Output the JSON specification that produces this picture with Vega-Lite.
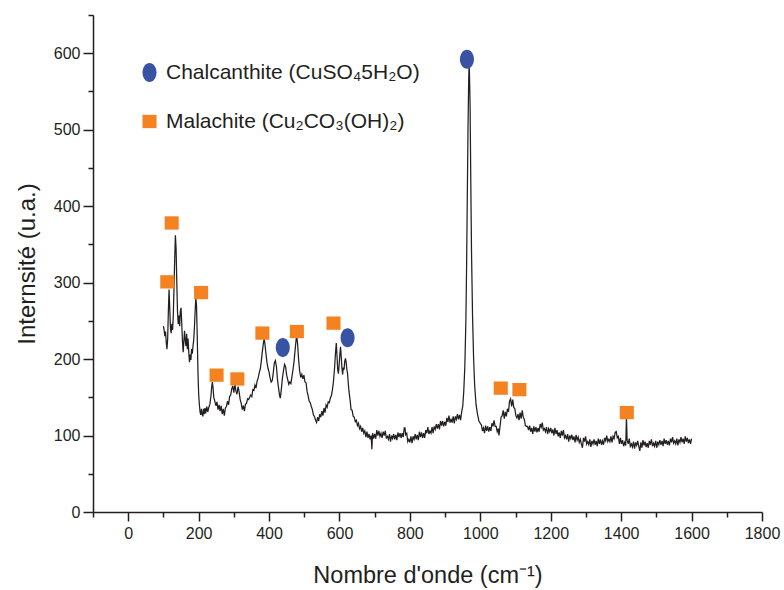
{
"$schema": "https://vega.github.io/schema/vega-lite/v6.json",
"autosize": "none",
"width": 669,
"height": 497,
"padding": {"left": 93, "top": 15, "right": 22, "bottom": 78},
"background": "white",
"config": {"view": {"stroke": null}, "font": "Liberation Sans"},
"datasets": {
"spectrum": [
{"w":100,"i":243},{"w":102,"i":238},{"w":104,"i":230},{"w":106,"i":236},{"w":108,"i":222},{"w":110,"i":213},{"w":112,"i":226},{"w":114,"i":262},{"w":116,"i":291},{"w":118,"i":266},{"w":120,"i":240},{"w":122,"i":234},{"w":124,"i":246},{"w":126,"i":238},{"w":128,"i":256},{"w":130,"i":292},{"w":132,"i":330},{"w":134,"i":362},{"w":136,"i":344},{"w":138,"i":300},{"w":140,"i":262},{"w":142,"i":246},{"w":144,"i":257},{"w":146,"i":243},{"w":148,"i":262},{"w":150,"i":267},{"w":152,"i":247},{"w":154,"i":224},{"w":156,"i":209},{"w":158,"i":223},{"w":160,"i":237},{"w":162,"i":225},{"w":164,"i":217},{"w":166,"i":233},{"w":168,"i":213},{"w":170,"i":227},{"w":172,"i":209},{"w":174,"i":196},{"w":176,"i":206},{"w":178,"i":199},{"w":180,"i":213},{"w":182,"i":207},{"w":184,"i":217},{"w":186,"i":225},{"w":188,"i":241},{"w":190,"i":262},{"w":192,"i":280},{"w":194,"i":270},{"w":196,"i":230},{"w":198,"i":185},{"w":200,"i":155},{"w":202,"i":141},{"w":204,"i":131},{"w":206,"i":127},{"w":208,"i":135},{"w":210,"i":128},{"w":212,"i":125},{"w":214,"i":135},{"w":216,"i":128},{"w":218,"i":136},{"w":220,"i":129},{"w":223,"i":138},{"w":226,"i":131},{"w":229,"i":137},{"w":232,"i":141},{"w":235,"i":152},{"w":237,"i":163},{"w":239,"i":170},{"w":241,"i":162},{"w":243,"i":150},{"w":246,"i":145},{"w":249,"i":139},{"w":252,"i":144},{"w":255,"i":134},{"w":258,"i":140},{"w":261,"i":132},{"w":264,"i":139},{"w":267,"i":128},{"w":270,"i":135},{"w":273,"i":126},{"w":276,"i":136},{"w":279,"i":138},{"w":282,"i":145},{"w":285,"i":140},{"w":288,"i":151},{"w":291,"i":153},{"w":294,"i":161},{"w":297,"i":165},{"w":300,"i":156},{"w":303,"i":167},{"w":306,"i":158},{"w":309,"i":154},{"w":312,"i":164},{"w":315,"i":157},{"w":318,"i":147},{"w":321,"i":142},{"w":324,"i":134},{"w":327,"i":139},{"w":330,"i":132},{"w":333,"i":141},{"w":336,"i":142},{"w":339,"i":148},{"w":342,"i":147},{"w":345,"i":150},{"w":348,"i":153},{"w":351,"i":151},{"w":354,"i":160},{"w":357,"i":159},{"w":360,"i":166},{"w":363,"i":162},{"w":366,"i":171},{"w":369,"i":175},{"w":372,"i":182},{"w":375,"i":187},{"w":378,"i":197},{"w":381,"i":210},{"w":384,"i":221},{"w":386,"i":226},{"w":388,"i":221},{"w":391,"i":208},{"w":394,"i":196},{"w":397,"i":188},{"w":400,"i":183},{"w":403,"i":175},{"w":406,"i":170},{"w":409,"i":172},{"w":412,"i":182},{"w":415,"i":195},{"w":418,"i":198},{"w":421,"i":190},{"w":424,"i":173},{"w":427,"i":162},{"w":430,"i":152},{"w":432,"i":149},{"w":435,"i":161},{"w":438,"i":175},{"w":441,"i":185},{"w":444,"i":193},{"w":447,"i":190},{"w":450,"i":179},{"w":453,"i":173},{"w":456,"i":167},{"w":459,"i":170},{"w":462,"i":168},{"w":465,"i":177},{"w":468,"i":186},{"w":471,"i":197},{"w":474,"i":212},{"w":477,"i":226},{"w":479,"i":229},{"w":481,"i":220},{"w":484,"i":199},{"w":487,"i":184},{"w":490,"i":176},{"w":493,"i":180},{"w":496,"i":174},{"w":499,"i":179},{"w":502,"i":170},{"w":505,"i":169},{"w":508,"i":158},{"w":511,"i":152},{"w":514,"i":145},{"w":517,"i":143},{"w":520,"i":138},{"w":523,"i":134},{"w":526,"i":127},{"w":529,"i":125},{"w":532,"i":120},{"w":535,"i":117},{"w":538,"i":124},{"w":541,"i":119},{"w":544,"i":128},{"w":547,"i":124},{"w":550,"i":132},{"w":553,"i":126},{"w":556,"i":136},{"w":559,"i":130},{"w":562,"i":140},{"w":565,"i":137},{"w":568,"i":144},{"w":571,"i":143},{"w":574,"i":149},{"w":577,"i":152},{"w":580,"i":160},{"w":583,"i":171},{"w":586,"i":188},{"w":589,"i":210},{"w":591,"i":221},{"w":593,"i":204},{"w":595,"i":186},{"w":597,"i":181},{"w":599,"i":192},{"w":601,"i":206},{"w":603,"i":216},{"w":605,"i":203},{"w":607,"i":188},{"w":609,"i":180},{"w":611,"i":189},{"w":613,"i":186},{"w":615,"i":197},{"w":617,"i":201},{"w":619,"i":196},{"w":621,"i":186},{"w":623,"i":181},{"w":625,"i":168},{"w":627,"i":158},{"w":630,"i":147},{"w":633,"i":134},{"w":636,"i":133},{"w":639,"i":125},{"w":642,"i":124},{"w":645,"i":118},{"w":648,"i":120},{"w":651,"i":113},{"w":654,"i":116},{"w":657,"i":109},{"w":660,"i":112},{"w":663,"i":105},{"w":666,"i":110},{"w":669,"i":103},{"w":672,"i":106},{"w":675,"i":98},{"w":678,"i":105},{"w":681,"i":97},{"w":684,"i":102},{"w":687,"i":95},{"w":690,"i":100},{"w":692,"i":82},{"w":694,"i":103},{"w":697,"i":96},{"w":700,"i":102},{"w":703,"i":96},{"w":706,"i":107},{"w":709,"i":100},{"w":712,"i":106},{"w":715,"i":99},{"w":718,"i":103},{"w":721,"i":97},{"w":724,"i":105},{"w":727,"i":100},{"w":730,"i":106},{"w":733,"i":97},{"w":736,"i":99},{"w":739,"i":95},{"w":742,"i":102},{"w":745,"i":92},{"w":748,"i":100},{"w":751,"i":96},{"w":754,"i":102},{"w":757,"i":95},{"w":760,"i":101},{"w":763,"i":94},{"w":766,"i":104},{"w":769,"i":98},{"w":772,"i":103},{"w":775,"i":97},{"w":778,"i":103},{"w":781,"i":98},{"w":784,"i":110},{"w":786,"i":110},{"w":788,"i":101},{"w":791,"i":103},{"w":794,"i":92},{"w":797,"i":95},{"w":800,"i":91},{"w":803,"i":99},{"w":806,"i":90},{"w":809,"i":99},{"w":812,"i":95},{"w":815,"i":102},{"w":818,"i":95},{"w":821,"i":101},{"w":824,"i":94},{"w":827,"i":105},{"w":830,"i":98},{"w":833,"i":104},{"w":836,"i":97},{"w":839,"i":103},{"w":842,"i":97},{"w":845,"i":107},{"w":848,"i":103},{"w":851,"i":111},{"w":854,"i":102},{"w":857,"i":106},{"w":860,"i":103},{"w":863,"i":111},{"w":866,"i":103},{"w":869,"i":112},{"w":872,"i":108},{"w":875,"i":115},{"w":878,"i":109},{"w":881,"i":115},{"w":884,"i":108},{"w":887,"i":119},{"w":890,"i":113},{"w":893,"i":119},{"w":896,"i":112},{"w":899,"i":118},{"w":902,"i":113},{"w":905,"i":123},{"w":908,"i":118},{"w":911,"i":126},{"w":914,"i":117},{"w":917,"i":121},{"w":920,"i":117},{"w":923,"i":125},{"w":926,"i":116},{"w":929,"i":125},{"w":932,"i":121},{"w":935,"i":128},{"w":938,"i":121},{"w":941,"i":127},{"w":944,"i":120},{"w":947,"i":131},{"w":950,"i":138},{"w":953,"i":158},{"w":956,"i":190},{"w":959,"i":250},{"w":961,"i":320},{"w":963,"i":410},{"w":965,"i":500},{"w":967,"i":565},{"w":968,"i":582},{"w":969,"i":578},{"w":971,"i":530},{"w":973,"i":430},{"w":975,"i":340},{"w":978,"i":255},{"w":981,"i":200},{"w":984,"i":165},{"w":988,"i":140},{"w":992,"i":128},{"w":996,"i":119},{"w":1000,"i":116},{"w":1003,"i":114},{"w":1006,"i":106},{"w":1009,"i":110},{"w":1012,"i":103},{"w":1015,"i":113},{"w":1018,"i":106},{"w":1021,"i":112},{"w":1024,"i":105},{"w":1027,"i":111},{"w":1030,"i":106},{"w":1033,"i":116},{"w":1036,"i":112},{"w":1039,"i":120},{"w":1042,"i":112},{"w":1045,"i":112},{"w":1048,"i":105},{"w":1051,"i":109},{"w":1053,"i":100},{"w":1056,"i":112},{"w":1059,"i":124},{"w":1062,"i":126},{"w":1065,"i":133},{"w":1068,"i":122},{"w":1071,"i":131},{"w":1074,"i":125},{"w":1077,"i":135},{"w":1080,"i":131},{"w":1083,"i":145},{"w":1086,"i":148},{"w":1089,"i":138},{"w":1092,"i":147},{"w":1095,"i":137},{"w":1098,"i":135},{"w":1101,"i":126},{"w":1104,"i":123},{"w":1107,"i":128},{"w":1110,"i":120},{"w":1113,"i":130},{"w":1116,"i":122},{"w":1119,"i":133},{"w":1122,"i":124},{"w":1125,"i":121},{"w":1128,"i":113},{"w":1131,"i":112},{"w":1134,"i":112},{"w":1137,"i":107},{"w":1140,"i":113},{"w":1143,"i":105},{"w":1146,"i":110},{"w":1149,"i":102},{"w":1152,"i":112},{"w":1155,"i":105},{"w":1158,"i":111},{"w":1161,"i":104},{"w":1164,"i":110},{"w":1167,"i":105},{"w":1170,"i":115},{"w":1173,"i":111},{"w":1176,"i":117},{"w":1179,"i":107},{"w":1182,"i":109},{"w":1185,"i":105},{"w":1188,"i":111},{"w":1191,"i":102},{"w":1194,"i":109},{"w":1197,"i":105},{"w":1200,"i":110},{"w":1203,"i":103},{"w":1206,"i":108},{"w":1209,"i":100},{"w":1212,"i":110},{"w":1215,"i":102},{"w":1218,"i":107},{"w":1221,"i":99},{"w":1224,"i":104},{"w":1227,"i":97},{"w":1230,"i":106},{"w":1233,"i":100},{"w":1236,"i":107},{"w":1239,"i":97},{"w":1242,"i":100},{"w":1245,"i":95},{"w":1248,"i":102},{"w":1251,"i":92},{"w":1254,"i":100},{"w":1257,"i":96},{"w":1260,"i":101},{"w":1263,"i":94},{"w":1266,"i":99},{"w":1269,"i":91},{"w":1272,"i":101},{"w":1275,"i":94},{"w":1278,"i":98},{"w":1281,"i":91},{"w":1284,"i":95},{"w":1287,"i":89},{"w":1290,"i":84},{"w":1293,"i":97},{"w":1296,"i":92},{"w":1299,"i":99},{"w":1302,"i":89},{"w":1305,"i":92},{"w":1308,"i":88},{"w":1311,"i":95},{"w":1314,"i":85},{"w":1317,"i":93},{"w":1320,"i":89},{"w":1323,"i":95},{"w":1326,"i":88},{"w":1329,"i":93},{"w":1332,"i":86},{"w":1335,"i":96},{"w":1338,"i":89},{"w":1341,"i":95},{"w":1344,"i":88},{"w":1347,"i":93},{"w":1350,"i":88},{"w":1353,"i":97},{"w":1356,"i":93},{"w":1359,"i":100},{"w":1362,"i":92},{"w":1365,"i":95},{"w":1368,"i":92},{"w":1371,"i":99},{"w":1374,"i":91},{"w":1377,"i":99},{"w":1380,"i":96},{"w":1383,"i":104},{"w":1386,"i":105},{"w":1389,"i":97},{"w":1392,"i":99},{"w":1395,"i":89},{"w":1398,"i":97},{"w":1401,"i":89},{"w":1404,"i":94},{"w":1407,"i":86},{"w":1410,"i":91},{"w":1413,"i":87},{"w":1415,"i":124},{"w":1417,"i":94},{"w":1420,"i":89},{"w":1423,"i":96},{"w":1426,"i":86},{"w":1429,"i":89},{"w":1432,"i":85},{"w":1435,"i":92},{"w":1438,"i":83},{"w":1441,"i":91},{"w":1444,"i":87},{"w":1447,"i":93},{"w":1450,"i":86},{"w":1453,"i":80},{"w":1456,"i":91},{"w":1459,"i":84},{"w":1462,"i":94},{"w":1465,"i":87},{"w":1468,"i":92},{"w":1471,"i":85},{"w":1474,"i":90},{"w":1477,"i":84},{"w":1480,"i":93},{"w":1483,"i":88},{"w":1486,"i":95},{"w":1489,"i":86},{"w":1492,"i":90},{"w":1495,"i":86},{"w":1498,"i":93},{"w":1501,"i":84},{"w":1504,"i":92},{"w":1507,"i":88},{"w":1510,"i":94},{"w":1513,"i":88},{"w":1516,"i":93},{"w":1519,"i":86},{"w":1522,"i":96},{"w":1525,"i":89},{"w":1528,"i":94},{"w":1531,"i":88},{"w":1534,"i":93},{"w":1537,"i":87},{"w":1540,"i":96},{"w":1543,"i":91},{"w":1546,"i":98},{"w":1549,"i":90},{"w":1552,"i":93},{"w":1555,"i":89},{"w":1558,"i":96},{"w":1561,"i":87},{"w":1564,"i":95},{"w":1567,"i":91},{"w":1570,"i":98},{"w":1573,"i":91},{"w":1576,"i":96},{"w":1579,"i":89},{"w":1582,"i":99},{"w":1585,"i":92},{"w":1588,"i":97},{"w":1591,"i":90},{"w":1594,"i":95},{"w":1597,"i":89},{"w":1600,"i":96}
],
"markers": [
{"m":"Chalcanthite","w":439,"i":215},{"m":"Chalcanthite","w":623,"i":228},{"m":"Chalcanthite","w":962,"i":592},
{"m":"Malachite","w":111,"i":301},{"m":"Malachite","w":123.5,"i":378},{"m":"Malachite","w":207,"i":287},{"m":"Malachite","w":251,"i":179},{"m":"Malachite","w":310,"i":174},{"m":"Malachite","w":381,"i":234},{"m":"Malachite","w":479,"i":236},{"m":"Malachite","w":583,"i":247},{"m":"Malachite","w":1058,"i":162},{"m":"Malachite","w":1111,"i":160},{"m":"Malachite","w":1416,"i":130}
]
},
"encoding": {
"x": {"field": "w", "type": "quantitative",
 "scale": {"domain": [-100, 1800], "nice": false, "zero": false},
 "axis": {
  "title": "Nombre d'onde (cm⁻¹)",
  "values": [-100,0,100,200,300,400,500,600,700,800,900,1000,1100,1200,1300,1400,1500,1600,1700,1800],
  "format": "d",
  "labelExpr": "datum.value % 200 === 0 ? datum.label : ''",
  "tickSize": {"condition": {"test": "datum.value % 200 === 0", "value": 9}, "value": 5},
  "grid": false, "labelOverlap": false, "labelFlush": false, "labelBound": false,
  "domainColor": "#231f20", "tickColor": "#231f20", "domainWidth": 1.5, "tickWidth": 1.5,
  "labelFont": "Liberation Sans", "labelFontSize": 16, "labelColor": "#231f20", "labelPadding": 4,
  "titleFont": "Liberation Sans", "titleFontSize": 23.5, "titleFontWeight": "normal", "titleColor": "#231f20", "titlePadding": 22
 }},
"y": {"field": "i", "type": "quantitative",
 "scale": {"domain": [0, 650], "nice": false},
 "axis": {
  "title": "Internsité (u.a.)",
  "values": [0,50,100,150,200,250,300,350,400,450,500,550,600,650],
  "labelExpr": "datum.value % 100 === 0 ? datum.label : ''",
  "tickSize": {"condition": {"test": "datum.value % 100 === 0", "value": 10}, "value": 5},
  "grid": false, "labelOverlap": false, "labelFlush": false, "labelBound": false,
  "domainColor": "#231f20", "tickColor": "#231f20", "domainWidth": 1.5, "tickWidth": 1.5,
  "labelFont": "Liberation Sans", "labelFontSize": 16, "labelColor": "#231f20", "labelPadding": 3,
  "titleFont": "Liberation Sans", "titleFontSize": 24, "titleFontWeight": "normal", "titleColor": "#231f20", "titlePadding": 14
 }}
},
"layer": [
{"data": {"name": "spectrum"},
 "mark": {"type": "line", "color": "#231f20", "strokeWidth": 1.25, "interpolate": "linear"}},
{"data": {"name": "markers"},
 "mark": {"type": "point", "filled": true, "opacity": 1, "size": 361, "strokeWidth": 0},
 "encoding": {
  "color": {"field": "m", "type": "nominal",
   "scale": {"domain": ["Chalcanthite", "Malachite"], "range": ["#3953a4", "#f58220"]},
   "legend": {"orient": "none", "legendX": 46, "legendY": 47, "title": null,
    "labelExpr": "datum.value === 'Chalcanthite' ? 'Chalcanthite (CuSO₄5H₂O)' : 'Malachite (Cu₂CO₃(OH)₂)'",
    "labelFont": "Liberation Sans", "labelFontSize": 21, "labelColor": "#231f20", "labelOffset": 6, "labelLimit": 0,
    "symbolSize": 361, "symbolStrokeWidth": 0, "rowPadding": 27, "padding": 0}},
  "shape": {"field": "m", "type": "nominal",
   "scale": {"domain": ["Chalcanthite", "Malachite"], "range": ["M0,-1A0.737,1,0,1,1,0,1A0.737,1,0,1,1,0,-1Z", "M-0.74,-0.7H0.74V0.7H-0.74Z"]}}
 }}
]
}
